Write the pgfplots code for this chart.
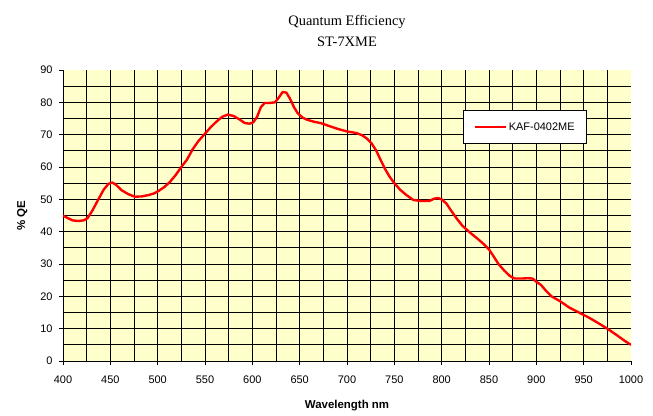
\documentclass[border=0pt]{standalone}
\usepackage{fontspec}
\setmainfont{Liberation Sans}
\newfontfamily\titlefont{Liberation Serif}
\usepackage{pgfplots}
\pgfplotsset{compat=1.18}
\definecolor{plotbg}{HTML}{FFFFCC}
\begin{document}
\begin{tikzpicture}
\path[use as bounding box] (-63bp,-55bp) rectangle (590bp,361bp);
\begin{axis}[
  scale only axis,
  width=568bp, height=291bp,
  xmin=400, xmax=1000, ymin=0, ymax=90,
  axis background/.style={fill=plotbg},
  axis x line*=bottom, axis y line*=left,
  axis line style={black, line width=0.9pt, -},
  xtick={400,450,...,1000},
  ytick={0,10,...,90},
  minor xtick={425,450,...,975},
  minor ytick={5,10,...,85},
  minor grid style={black, line width=0.85pt},
  xminorgrids=true, yminorgrids=true,
  major tick length=4bp, minor tick length=0pt,
  tick align=outside,
  tick style={black, line width=0.8pt},
  /pgf/number format/assume math mode=true,
  /pgf/number format/1000 sep={},
  ticklabel style={font=\fontsize{11}{13}\selectfont},
  xticklabel style={yshift=-7bp},
  yticklabel style={xshift=-3bp},
  xlabel={\textbf{Wavelength nm}},
  ylabel={\textbf{\% QE}},
  label style={font=\fontsize{11.5}{13}\selectfont},
  xlabel style={yshift=-10bp},
  ylabel style={yshift=6bp},
  title={Quantum Efficiency\\ST-7XME},
  title style={align=center, font=\titlefont\fontsize{14.5}{21}\selectfont, yshift=14bp},
  legend style={at={(587bp-63bp,291bp-(110bp-70bp))}, anchor=north east, draw=black, line width=0.8pt, fill=white,
    font=\fontsize{11}{13}\selectfont, inner xsep=10bp, inner ysep=10bp},
  legend cell align=left,
  legend image code/.code={\draw[#1, line width=2.4pt] (0bp,0bp) -- (31bp,0bp);},
  legend style={/tikz/every even column/.append style={column sep=0pt}},
]
\addplot[red, line width=2.4pt, line join=round] coordinates {
(400,45) (405,44.2) (410,43.5) (416,43.3) (422,43.5) (426,44.2) (431,46.5) (437,49.8) (443,53) (448,54.8) (452,55.2) (456,54.5) (462,52.8) (469,51.6) (476,50.8) (483,50.9) (490,51.3) (496,51.8) (501,52.6) (507,53.8) (513,55.4) (519,57.5) (525,60) (531,62.3) (537,65.5) (543,68) (550,70.3) (556,72.3) (562,74) (568,75.5) (574,76.2) (580,75.8) (586,74.8) (592,73.6) (597,73.4) (601,73.8) (605,75.5) (609,78.5) (613,79.8) (618,79.8) (624,80) (628,81.5) (632,83.2) (636,83) (640,81) (644,78.5) (648,76.6) (653,75.3) (658,74.6) (665,74) (672,73.6) (680,72.8) (690,71.8) (700,71) (710,70.5) (716,69.8) (721,68.8) (726,67.3) (731,65) (735,62.5) (740,59.5) (745,57) (750,55) (756,53) (762,51.5) (770,49.8) (778,49.5) (787,49.5) (792,50.2) (796,50.4) (800,50) (805,48.7) (810,46.5) (816,44) (822,41.8) (830,39.7) (838,37.8) (845,36) (850,34.5) (855,32.3) (860,30) (866,28) (872,26.3) (877,25.5) (884,25.5) (891,25.6) (896,25.5) (900,24.5) (905,23.5) (910,21.8) (916,20) (925,18.5) (935,16.5) (945,15) (955,13.5) (965,11.8) (975,10) (985,8) (993,6.3) (1000,5)
};
\addlegendentry{KAF-0402ME}
\end{axis}
\end{tikzpicture}
\end{document}
